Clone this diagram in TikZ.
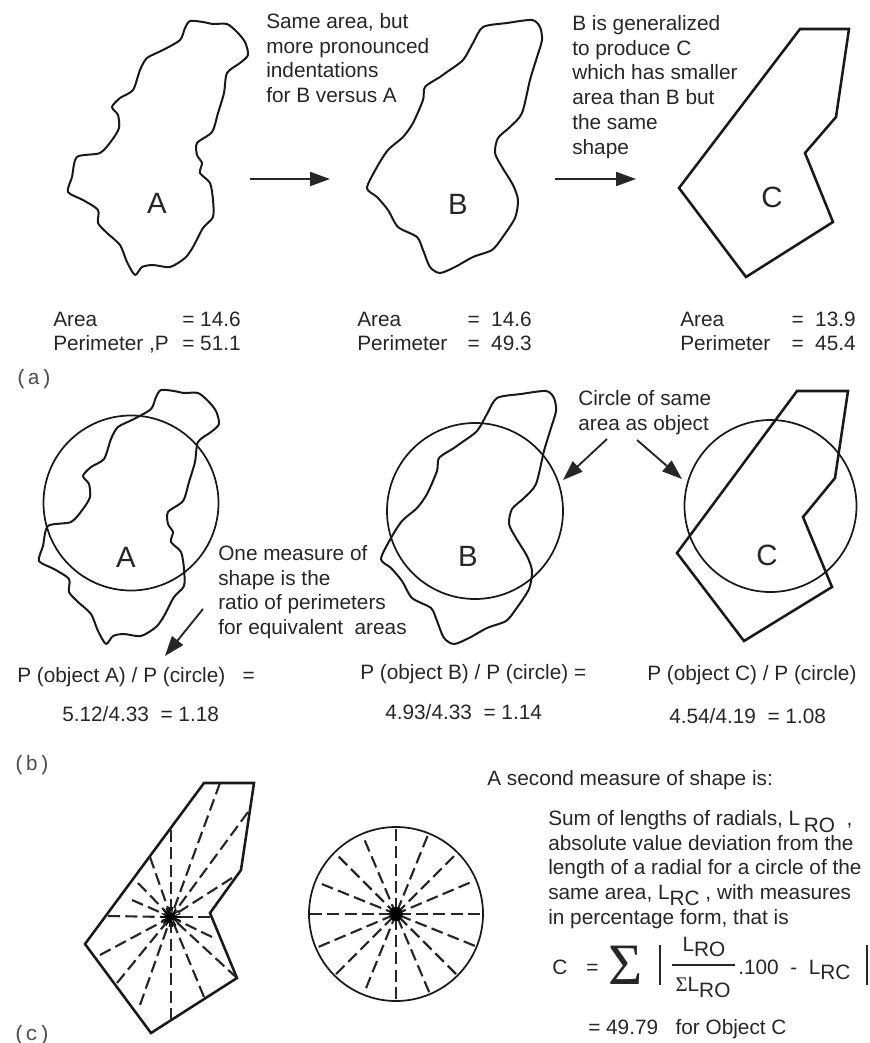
\documentclass[tikz,border=0pt]{standalone}
\usepackage{fontspec}
\setmainfont{Liberation Sans}
\setmonofont{Liberation Mono}
\newfontfamily\sigmafont{Liberation Serif}
\usetikzlibrary{arrows.meta}
\newcommand{\radlen}[2][-4pt]{\smash{L\raisebox{#1}{#2}}}
\tikzset{
    label/.style={font=\fontsize{15.6}{18.6}\selectfont, inner sep=0pt, align=left, text=black!85},
    letter/.style={font=\fontsize{22}{22}\selectfont, inner sep=0pt, text=black!85},
    panel/.style={font=\ttfamily\fontsize{15.6}{18.6}\selectfont, inner sep=0pt, text=black!70},
    outline/.style={black!90, line width=1.5pt, line join=round},
    polygon/.style={black!90, line width=1.9pt, line join=miter},
    ring/.style={black!90, line width=1.3pt},
    radial/.style={black!85, line width=1.6pt, dash pattern=on 9pt off 4pt},
    spoke/.style={black, line width=0.8pt},
    pointer/.style={-{Triangle[length=15pt,width=10.5pt]}, black!85, line width=1.4pt},
    bar/.style={black!85, line width=1.2pt}
}
\begin{document}
\begin{tikzpicture}[x=0.75pt, y=-0.75pt]
        \useasboundingbox (0,0) rectangle (869,1043);

        % 1. Object A, as it stands and over its circle
        \foreach \sx/\sy in {0/0, -29/369}{
            \draw[outline, shift={(\sx,\sy)}] plot[smooth cycle, tension=0.45] coordinates {
                (190,21) (203,22) (213,24) (227,24) (237,32) (245,42) (248,55) (240,63)
                (227,73) (224,93) (218,113) (212,132) (197,143) (197,155) (202,163) (200,173)
                (210,183) (213,200) (213,217) (203,228) (193,247) (185,258) (170,267) (153,265)
                (142,267) (135,275) (127,262) (120,245) (107,233) (98,223) (98,210) (83,200)
                (68,192) (72,177) (77,157) (100,153) (112,140) (119,128) (118,115) (112,107)
                (120,98) (133,90) (140,70) (147,58) (163,50) (180,40) (185,28)
            };
        }

        % 2. Object B, the same
        \foreach \sx/\sy in {0/0, 14/371}{
            \draw[outline, shift={(\sx,\sy)}] plot[smooth cycle, tension=0.45] coordinates {
                (483,27) (507,23) (532,20) (540,27) (542,40) (537,57) (530,80) (522,113)
                (510,127) (498,138) (495,153) (502,167) (513,185) (518,200) (515,218) (502,238)
                (492,250) (473,257) (455,267) (440,273) (430,267) (423,250) (417,237) (398,227)
                (388,210) (377,197) (367,188) (377,167) (388,150) (403,137) (413,123) (423,100)
                (425,87) (440,77) (447,72) (463,60) (473,43)
            };
        }

        % 3. Object C, the same
        \draw[polygon] (800,29) -- (849,29) -- (836,117) -- (805,153) -- (833,222) -- (746,277) -- (679,188) -- cycle;
        \draw[polygon] (797,391) -- (848,391) -- (835,478) -- (803,517) -- (832,587) -- (744,641) -- (677,553) -- cycle;

        % 4. Circles of same area
        \draw[ring] (131,503) circle (87.5);
        \draw[ring] (475,511) circle (88);
        \draw[ring] (770.5,506) circle (86);

        % 5. Letters and notes of part (a)
        \node[letter] (letterA) at (157,203) {A};
        \node[letter] (letterB) at (458,204) {B};
        \node[letter] (letterC) at (772,197) {C};
        \node[label, anchor=north west] (noteSame) at (266,13) {Same area, but\\more pronounced\\indentations\\for B versus A};
        \node[label, anchor=north west] (noteGen) at (572,15) {B is generalized\\to produce C\\which has smaller\\area than B but\\the same\\shape};

        \coordinate (arrowAstart) at (250,179);
        \coordinate (arrowAend) at (330,179);
        \coordinate (arrowBstart) at (555,179);
        \coordinate (arrowBend) at (636,179);
        \draw[pointer] (arrowAstart) -- (arrowAend);
        \draw[pointer] (arrowBstart) -- (arrowBend);

        \node[label, anchor=base west] (areaA) at (53,326) {Area};
        \node[label, anchor=base east] (areaAval) at (241,326) {= 14.6};
        \node[label, anchor=base west] (perA) at (53,350) {Perimeter ,P};
        \node[label, anchor=base east] (perAval) at (241,350) {= 51.1};
        \node[label, anchor=base west] (areaB) at (357,326) {Area};
        \node[label, anchor=base east] (areaBval) at (532,326) {=\ \ 14.6};
        \node[label, anchor=base west] (perB) at (357,350) {Perimeter};
        \node[label, anchor=base east] (perBval) at (532,350) {=\ \ 49.3};
        \node[label, anchor=base west] (areaC) at (680,326) {Area};
        \node[label, anchor=base east] (areaCval) at (856,326) {=\ \ 13.9};
        \node[label, anchor=base west] (perC) at (680,350) {Perimeter};
        \node[label, anchor=base east] (perCval) at (856,350) {=\ \ 45.4};
        \node[panel, anchor=base west] (panelA) at (15,384) {(a)};

        % 6. Letters and notes of part (b)
        \node[letter] (circA) at (126,557) {A};
        \node[letter] (circB) at (468,556) {B};
        \node[letter] (circC) at (767,555) {C};
        \node[label, anchor=north west] (noteRatio) at (218,545) {One measure of\\shape is the\\ratio of perimeters\\for equivalent\ \ areas};
        \node[label, anchor=north west] (noteCircle) at (578,390) {Circle of same\\area as object};

        \coordinate (arrowCstart) at (203,609);
        \coordinate (arrowCend) at (165,656);
        \coordinate (arrowDstart) at (607,439);
        \coordinate (arrowDend) at (563,480);
        \coordinate (arrowEstart) at (637,440);
        \coordinate (arrowEend) at (682,479);
        \draw[pointer] (arrowCstart) -- (arrowCend);
        \draw[pointer] (arrowDstart) -- (arrowDend);
        \draw[pointer] (arrowEstart) -- (arrowEend);

        \node[label, anchor=base west] (ratioA) at (17,682) {P (object A) / P (circle)\ \ \ =};
        \node[label, anchor=base west] (valueA) at (62,721) {5.12/4.33\ \ = 1.18};
        \node[label, anchor=base west] (ratioB) at (360,679) {P (object B) / P (circle) =};
        \node[label, anchor=base west] (valueB) at (385,719) {4.93/4.33\ \ = 1.14};
        \node[label, anchor=base west] (ratioC) at (647,680) {P (object C) / P (circle)};
        \node[label, anchor=base west] (valueC) at (669,723) {4.54/4.19\ \ = 1.08};
        \node[panel, anchor=base west] (panelB) at (13,770) {(b)};

        % 7. Radials of object C
        \coordinate (hubC) at (171,917);
        \draw[polygon] (204,783) -- (254,783) -- (241,870) -- (210,913) -- (237,978) -- (151,1033) -- (85,944) -- cycle;
        \foreach \e in {
            (220,783), (248,812), (232,878), (210,917), (212,937), (237,978),
            (204,997), (171,1020), (171,830), (150,857), (138,883), (132,900),
            (108,916), (100,955), (117,983), (140,1005)
        }{
            \draw[radial] \e -- (hubC);
        }
        \foreach \a in {0,20,...,340}{
            \draw[spoke] (hubC) -- ++(\a:10);
        }

        % 8. Radials of the circle
        \coordinate (hubO) at (396,914);
        \draw[ring] (hubO) circle (87);
        \foreach \a/\r in {
            0/84, 22/85, 45/85, 67/85, 90/85, 112/80, 135/85, 157/84,
            180/86, 202/80, 225/81, 247/80, 270/85, 292/84, 315/82, 337/80
        }{
            \draw[radial] (hubO) ++(\a:\r) -- (hubO);
        }
        \foreach \a in {0,20,...,340}{
            \draw[spoke, line width=1.2pt] (hubO) -- ++(\a:7);
        }

        % 9. Second measure of shape
        \node[label, anchor=base west] (second) at (487,785) {A second measure of shape is:};
        \node[label, anchor=north west] (sumText) at (548,810) {Sum of lengths of radials, \radlen[-5pt]{\,RO}\ \ ,\\absolute value deviation from the\\length of a radial for a circle of the\\same area, \radlen{RC}\ ,\ with measures\\in percentage form, that is};

        \node[label, anchor=base west] (formC) at (552,974) {C};
        \node[label, anchor=base west] (formEq) at (586,974) {=};
        \node[font=\sigmafont\fontsize{44}{44}\selectfont, inner sep=0pt, text=black!85] (formSum) at (626,965) {Σ};
        \draw[bar] (660,945) -- (660,985);
        \node[label] (formTop) at (704,951) {\radlen{RO}};
        \draw[bar] (672,965) -- (735,965);
        \node[label] (formBot) at (703,985) {{\sigmafont Σ}\radlen{RO}};
        \node[label, anchor=base west] (formTail) at (738,974) {.100\ \ -\ \ \radlen{RC}};
        \draw[bar] (867,945) -- (867,985);
        \node[label, anchor=base west] (formValue) at (588,1034) {=\ 49.79\ \ \ for Object C};
        \node[panel, anchor=base west] (panelC) at (13,1040) {(c)};

    \end{tikzpicture}
\end{document}
